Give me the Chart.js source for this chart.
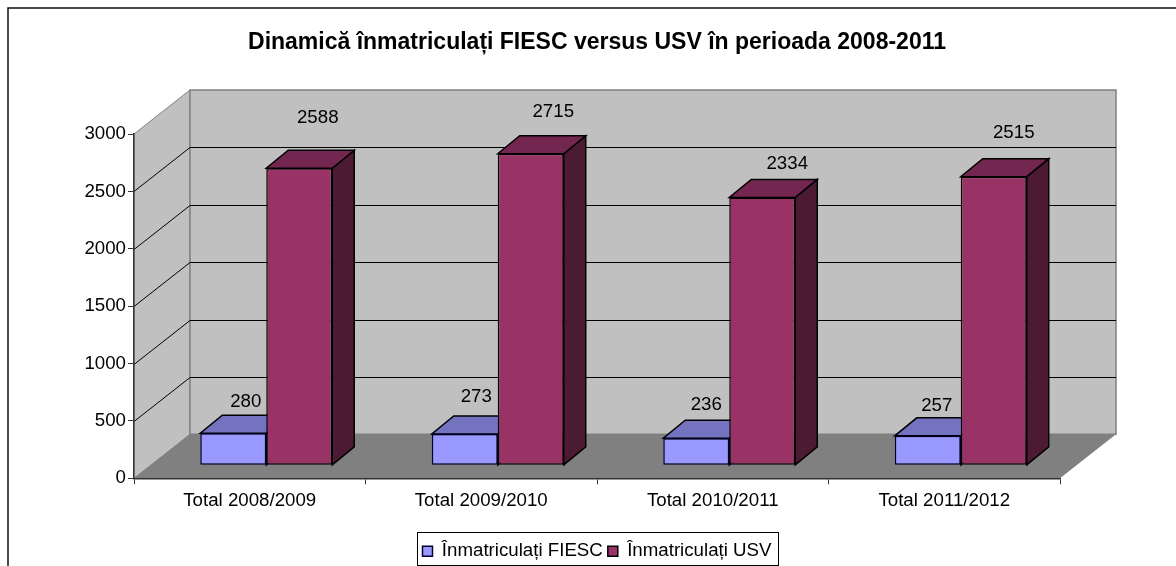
<!DOCTYPE html>
<html>
<head>
<meta charset="utf-8">
<style>
  html, body { margin: 0; padding: 0; background: #fff; overflow: hidden; }
  canvas { display: block; }
</style>
<script src="https://cdn.jsdelivr.net/npm/chart.js@4"></script>
</head>
<body>
<canvas id="chart" width="1176" height="566"></canvas>
<script>
// Data
const categories = ['Total 2008/2009', 'Total 2009/2010', 'Total 2010/2011', 'Total 2011/2012'];
const fiesc = [280, 273, 236, 257];
const usv = [2588, 2715, 2334, 2515];
const seriesNames = ['Înmatriculați FIESC', 'Înmatriculați USV'];
const yTicks = [0, 500, 1000, 1500, 2000, 2500, 3000];
const chartTitle = 'Dinamică înmatriculați FIESC versus USV în perioada 2008-2011';

// 3D look
const FONT = 'Liberation Sans';
const WALL = { x: 56, y: 44 };     // depth of the whole box
const BAR_PLANE = { x: 16.5, y: 13 };  // how far back the bars stand
const BAR_DEPTH = { x: 22, y: 18 };
const LABEL_NUDGE = [
    [[12.5, -31], [11.5, -37], [10, -33], [9, -30]],
    [[18.5, -50], [22.5, -42], [25, -34], [20, -44]]
];

function poly(ctx, pts, fill, stroke, lw) {
    ctx.beginPath();
    pts.forEach((p, i) => i ? ctx.lineTo(p[0], p[1]) : ctx.moveTo(p[0], p[1]));
    ctx.closePath();
    if (fill) { ctx.fillStyle = fill; ctx.fill(); }
    if (stroke) { ctx.strokeStyle = stroke; ctx.lineWidth = lw || 1; ctx.stroke(); }
}

const box3d = {
    id: 'box3d',
    afterLayout(chart) {
        // legend sits lower than the layout puts it
        chart.legend.top += 5.5;
        chart.legend.bottom += 5.5;
    },
    beforeDraw(chart) {
        const { ctx, chartArea: a, scales: { y } } = chart;
        const y0 = y.getPixelForValue(0), yMax = y.getPixelForValue(3000);
        ctx.save();
        // page frame
        ctx.strokeStyle = '#111';
        ctx.lineWidth = 1.5;
        ctx.beginPath();
        ctx.moveTo(8, 566); ctx.lineTo(8, 8); ctx.lineTo(1176, 8);
        ctx.stroke();
        // walls and floor
        poly(ctx, [[a.left, yMax], [a.left + WALL.x, yMax - WALL.y], [a.left + WALL.x, y0 - WALL.y], [a.left, y0]], '#c0c0c0', '#808080', 1);
        poly(ctx, [[a.left + WALL.x, yMax - WALL.y], [a.right + WALL.x, yMax - WALL.y], [a.right + WALL.x, y0 - WALL.y], [a.left + WALL.x, y0 - WALL.y]], '#c0c0c0', '#808080', 1.5);
        poly(ctx, [[a.left, y0], [a.right, y0], [a.right + WALL.x, y0 - WALL.y], [a.left + WALL.x, y0 - WALL.y]], '#808080');
        // grid lines, round the corner
        ctx.strokeStyle = '#000';
        ctx.lineWidth = 1;
        yTicks.slice(1, -1).forEach(v => {
            const py = Math.round(y.getPixelForValue(v)) + 0.5;
            ctx.beginPath();
            ctx.moveTo(a.left, py);
            ctx.lineTo(a.left + WALL.x, py - WALL.y);
            ctx.lineTo(a.right + WALL.x, py - WALL.y);
            ctx.stroke();
        });
        ctx.restore();
    },
    beforeDatasetsDraw(chart) {
        const ctx = chart.ctx;
        ctx.save();
        ctx.translate(BAR_PLANE.x, -BAR_PLANE.y);
        const tops = ['#7373bf', '#732650'];
        const sides = ['#4d4d80', '#4d1a33'];
        chart.data.datasets.forEach((ds, d) => {
            chart.getDatasetMeta(d).data.forEach(bar => {
                const l = bar.x - bar.width / 2, r = bar.x + bar.width / 2;
                const dx = BAR_DEPTH.x, dy = BAR_DEPTH.y;
                poly(ctx, [[r, bar.y], [r + dx, bar.y - dy], [r + dx, bar.base - dy], [r, bar.base]], sides[d], '#000', 1.5);
                poly(ctx, [[l, bar.y], [r, bar.y], [r + dx, bar.y - dy], [l + dx, bar.y - dy]], tops[d], '#000', 1.5);
            });
        });
    },
    afterDatasetsDraw(chart) {
        const ctx = chart.ctx;
        ctx.restore();
        // value labels
        ctx.save();
        ctx.font = '18.7px "' + FONT + '"';
        ctx.fillStyle = '#000';
        ctx.textAlign = 'center';
        ctx.textBaseline = 'middle';
        chart.data.datasets.forEach((ds, d) => {
            chart.getDatasetMeta(d).data.forEach((bar, i) => {
                const n = LABEL_NUDGE[d][i];
                ctx.fillText(ds.data[i], bar.x + BAR_PLANE.x + n[0], bar.y - BAR_PLANE.y + n[1]);
            });
        });
        ctx.restore();
    },
    afterDraw(chart) {
        // frame around the legend
        const hits = chart.legend.legendHitBoxes;
        const ctx = chart.ctx;
        const last = hits[hits.length - 1];
        const left = hits[0].left - 5, right = last.left + last.width + 7;
        ctx.save();
        ctx.strokeStyle = '#000';
        ctx.lineWidth = 1;
        ctx.strokeRect(Math.round(left) + 0.5, 532.5, Math.round(right - left), 33);
        ctx.restore();
    }
};

new Chart(document.getElementById('chart').getContext('2d'), {
    type: 'bar',
    data: {
        labels: categories,
        datasets: [
            { label: seriesNames[0], data: fiesc, backgroundColor: '#9999ff', borderColor: '#000033', borderWidth: 1.5, borderSkipped: false, clip: false },
            { label: seriesNames[1], data: usv, backgroundColor: '#993366', borderColor: '#000', borderWidth: 1.5, borderSkipped: false, clip: false }
        ]
    },
    options: {
        responsive: false,
        animation: false,
        categoryPercentage: 0.57,
        barPercentage: 1,
        layout: { padding: { left: 74, right: 116, top: 0, bottom: 1 } },
        scales: {
            x: {
                grid: { drawOnChartArea: false, tickLength: 6, color: '#333', offset: true },
                border: { color: '#333', width: 1.5 },
                ticks: { color: '#000', font: { family: FONT, size: 18.7 }, padding: 5, maxRotation: 0 },
                afterFit(scale) { scale.height = 53; }
            },
            y: {
                min: 0,
                max: 3000,
                afterBuildTicks(scale) { scale.ticks = yTicks.map(v => ({ value: v })); },
                grid: { drawOnChartArea: false, tickLength: 6, color: '#333' },
                border: { color: '#333', width: 1.5 },
                ticks: { color: '#000', font: { family: FONT, size: 18.7 }, padding: 2, callback: v => String(v) },
                afterFit(scale) { scale.width = 60; }
            }
        },
        plugins: {
            title: {
                display: true,
                text: chartTitle,
                color: '#000',
                fullSize: false,
                font: { family: FONT, size: 23, weight: 'bold' },
                padding: { top: 29, bottom: 77.4 }
            },
            legend: {
                position: 'bottom',
                fullSize: false,
                labels: { color: '#000', font: { family: FONT, size: 18.7 }, boxWidth: 10, boxHeight: 10, padding: 5 }
            },
            tooltip: { enabled: false }
        }
    },
    plugins: [box3d]
});
</script>
</body>
</html>
